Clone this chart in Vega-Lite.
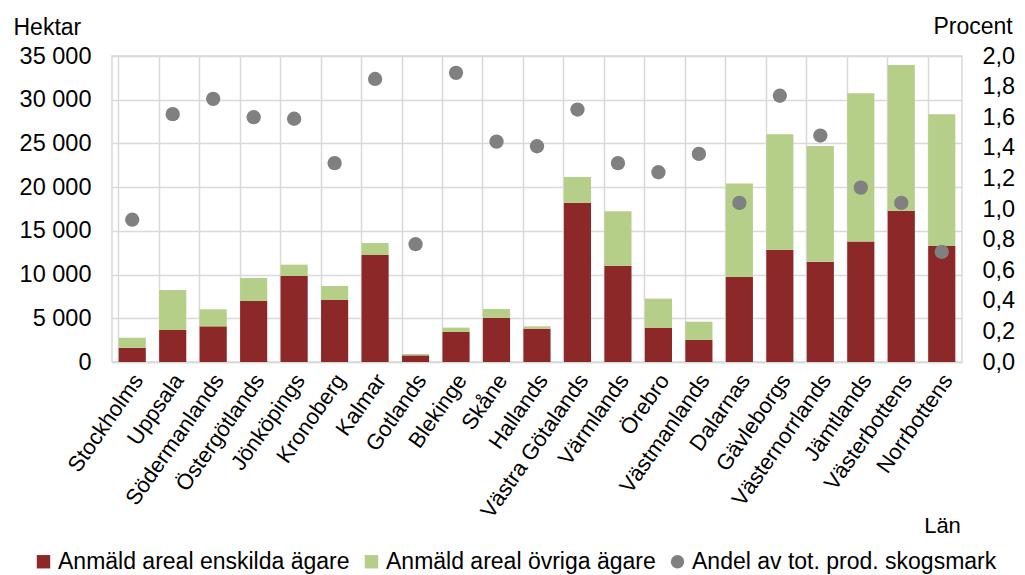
{
  "$schema": "https://vega.github.io/schema/vega-lite/v6.json",
  "width": 850,
  "height": 306,
  "autosize": {"type": "none"},
  "padding": {"left": 112, "top": 56, "right": 63, "bottom": 213},
  "background": "white",
  "config": {
    "font": "Liberation Sans",
    "view": {"stroke": "#d9d9d9", "strokeWidth": 1.5},
    "locale": {"number": {"decimal": ",", "thousands": " ", "grouping": [3], "currency": ["", " kr"]}},
    "axis": {"labelFont": "Liberation Sans", "titleFont": "Liberation Sans", "labelColor": "#000000", "titleColor": "#000000", "labelFontSize": 23.5, "titleFontSize": 23, "titleFontWeight": "normal", "ticks": false, "domain": false, "gridColor": "#d9d9d9", "gridWidth": 1.5},
    "legend": {"labelFont": "Liberation Sans", "labelFontSize": 23, "labelColor": "#000000", "labelLimit": 0}
  },
  "data": {
    "values": [
      {"lan": "Stockholms", "serie": "Anmäld areal enskilda ägare", "varde": 1630},
      {"lan": "Stockholms", "serie": "Anmäld areal övriga ägare", "varde": 1150},
      {"lan": "Stockholms", "serie": "Andel av tot. prod. skogsmark", "varde": 0.93},
      {"lan": "Uppsala", "serie": "Anmäld areal enskilda ägare", "varde": 3660},
      {"lan": "Uppsala", "serie": "Anmäld areal övriga ägare", "varde": 4580},
      {"lan": "Uppsala", "serie": "Andel av tot. prod. skogsmark", "varde": 1.62},
      {"lan": "Södermanlands", "serie": "Anmäld areal enskilda ägare", "varde": 4080},
      {"lan": "Södermanlands", "serie": "Anmäld areal övriga ägare", "varde": 1950},
      {"lan": "Södermanlands", "serie": "Andel av tot. prod. skogsmark", "varde": 1.72},
      {"lan": "Östergötlands", "serie": "Anmäld areal enskilda ägare", "varde": 6980},
      {"lan": "Östergötlands", "serie": "Anmäld areal övriga ägare", "varde": 2630},
      {"lan": "Östergötlands", "serie": "Andel av tot. prod. skogsmark", "varde": 1.60},
      {"lan": "Jönköpings", "serie": "Anmäld areal enskilda ägare", "varde": 9840},
      {"lan": "Jönköpings", "serie": "Anmäld areal övriga ägare", "varde": 1290},
      {"lan": "Jönköpings", "serie": "Andel av tot. prod. skogsmark", "varde": 1.59},
      {"lan": "Kronoberg", "serie": "Anmäld areal enskilda ägare", "varde": 7090},
      {"lan": "Kronoberg", "serie": "Anmäld areal övriga ägare", "varde": 1600},
      {"lan": "Kronoberg", "serie": "Andel av tot. prod. skogsmark", "varde": 1.30},
      {"lan": "Kalmar", "serie": "Anmäld areal enskilda ägare", "varde": 12240},
      {"lan": "Kalmar", "serie": "Anmäld areal övriga ägare", "varde": 1370},
      {"lan": "Kalmar", "serie": "Andel av tot. prod. skogsmark", "varde": 1.85},
      {"lan": "Gotlands", "serie": "Anmäld areal enskilda ägare", "varde": 760},
      {"lan": "Gotlands", "serie": "Anmäld areal övriga ägare", "varde": 150},
      {"lan": "Gotlands", "serie": "Andel av tot. prod. skogsmark", "varde": 0.77},
      {"lan": "Blekinge", "serie": "Anmäld areal enskilda ägare", "varde": 3430},
      {"lan": "Blekinge", "serie": "Anmäld areal övriga ägare", "varde": 500},
      {"lan": "Blekinge", "serie": "Andel av tot. prod. skogsmark", "varde": 1.89},
      {"lan": "Skåne", "serie": "Anmäld areal enskilda ägare", "varde": 5070},
      {"lan": "Skåne", "serie": "Anmäld areal övriga ägare", "varde": 990},
      {"lan": "Skåne", "serie": "Andel av tot. prod. skogsmark", "varde": 1.44},
      {"lan": "Hallands", "serie": "Anmäld areal enskilda ägare", "varde": 3810},
      {"lan": "Hallands", "serie": "Anmäld areal övriga ägare", "varde": 270},
      {"lan": "Hallands", "serie": "Andel av tot. prod. skogsmark", "varde": 1.41},
      {"lan": "Västra Götalands", "serie": "Anmäld areal enskilda ägare", "varde": 18190},
      {"lan": "Västra Götalands", "serie": "Anmäld areal övriga ägare", "varde": 2970},
      {"lan": "Västra Götalands", "serie": "Andel av tot. prod. skogsmark", "varde": 1.65},
      {"lan": "Värmlands", "serie": "Anmäld areal enskilda ägare", "varde": 11020},
      {"lan": "Värmlands", "serie": "Anmäld areal övriga ägare", "varde": 6210},
      {"lan": "Värmlands", "serie": "Andel av tot. prod. skogsmark", "varde": 1.30},
      {"lan": "Örebro", "serie": "Anmäld areal enskilda ägare", "varde": 3930},
      {"lan": "Örebro", "serie": "Anmäld areal övriga ägare", "varde": 3320},
      {"lan": "Örebro", "serie": "Andel av tot. prod. skogsmark", "varde": 1.24},
      {"lan": "Västmanlands", "serie": "Anmäld areal enskilda ägare", "varde": 2520},
      {"lan": "Västmanlands", "serie": "Anmäld areal övriga ägare", "varde": 2090},
      {"lan": "Västmanlands", "serie": "Andel av tot. prod. skogsmark", "varde": 1.36},
      {"lan": "Dalarnas", "serie": "Anmäld areal enskilda ägare", "varde": 9720},
      {"lan": "Dalarnas", "serie": "Anmäld areal övriga ägare", "varde": 10710},
      {"lan": "Dalarnas", "serie": "Andel av tot. prod. skogsmark", "varde": 1.04},
      {"lan": "Gävleborgs", "serie": "Anmäld areal enskilda ägare", "varde": 12850},
      {"lan": "Gävleborgs", "serie": "Anmäld areal övriga ägare", "varde": 13190},
      {"lan": "Gävleborgs", "serie": "Andel av tot. prod. skogsmark", "varde": 1.74},
      {"lan": "Västernorrlands", "serie": "Anmäld areal enskilda ägare", "varde": 11480},
      {"lan": "Västernorrlands", "serie": "Anmäld areal övriga ägare", "varde": 13230},
      {"lan": "Västernorrlands", "serie": "Andel av tot. prod. skogsmark", "varde": 1.48},
      {"lan": "Jämtlands", "serie": "Anmäld areal enskilda ägare", "varde": 13770},
      {"lan": "Jämtlands", "serie": "Anmäld areal övriga ägare", "varde": 16960},
      {"lan": "Jämtlands", "serie": "Andel av tot. prod. skogsmark", "varde": 1.14},
      {"lan": "Västerbottens", "serie": "Anmäld areal enskilda ägare", "varde": 17310},
      {"lan": "Västerbottens", "serie": "Anmäld areal övriga ägare", "varde": 16660},
      {"lan": "Västerbottens", "serie": "Andel av tot. prod. skogsmark", "varde": 1.04},
      {"lan": "Norrbottens", "serie": "Anmäld areal enskilda ägare", "varde": 13270},
      {"lan": "Norrbottens", "serie": "Anmäld areal övriga ägare", "varde": 15060},
      {"lan": "Norrbottens", "serie": "Andel av tot. prod. skogsmark", "varde": 0.72}
    ]
  },
  "encoding": {
    "x": {
      "field": "lan",
      "type": "nominal",
      "sort": null,
      "scale": {"paddingInner": 0.33, "paddingOuter": 0.165},
      "axis": {
        "title": "Län",
        "titleX": 830,
        "titleY": 170,
        "titleAlign": "center",
        "titleBaseline": "alphabetic",
        "titleFontSize": 22,
        "labelAngle": -55,
        "labelAlign": "right",
        "labelBaseline": "middle",
        "labelFontSize": 22,
        "labelPadding": 14,
        "labelOffset": 6,
        "grid": true,
        "bandPosition": 0,
        "domain": true,
        "domainColor": "#d9d9d9",
        "domainWidth": 1.5
      }
    }
  },
  "layer": [
    {
      "transform": [{"filter": "datum.serie !== 'Andel av tot. prod. skogsmark'"}],
      "mark": {"type": "bar"},
      "encoding": {
        "y": {
          "field": "varde",
          "type": "quantitative",
          "stack": "zero",
          "scale": {"domain": [0, 35000], "nice": false},
          "axis": {
            "title": "Hektar",
            "titleAngle": 0,
            "titleX": -99,
            "titleY": -22,
            "titleAlign": "left",
            "titleBaseline": "alphabetic",
            "values": [0, 5000, 10000, 15000, 20000, 25000, 30000, 35000],
            "format": ",d",
            "labelPadding": 21,
            "grid": true
          }
        },
        "order": {"field": "serie", "sort": "ascending"},
        "color": {
          "field": "serie",
          "type": "nominal",
          "scale": {
            "domain": ["Anmäld areal enskilda ägare", "Anmäld areal övriga ägare", "Andel av tot. prod. skogsmark"],
            "range": ["#8c2828", "#b5cf89", "#808080"]
          },
          "legend": {
            "orient": "none",
            "direction": "horizontal",
            "legendX": -80,
            "legendY": 494,
            "title": null,
            "symbolSize": 180,
            "columnPadding": 10,
            "labelOffset": 3
          }
        }
      }
    },
    {
      "transform": [{"filter": "datum.serie === 'Andel av tot. prod. skogsmark'"}],
      "mark": {"type": "point", "filled": true, "opacity": 1, "size": 205},
      "encoding": {
        "y": {
          "field": "varde",
          "type": "quantitative",
          "scale": {"domain": [0, 2], "nice": false},
          "axis": {
            "orient": "right",
            "title": "Procent",
            "titleAngle": 0,
            "titleX": -29,
            "titleY": -23,
            "titleAlign": "left",
            "titleBaseline": "alphabetic",
            "values": [0, 0.2, 0.4, 0.6, 0.8, 1.0, 1.2, 1.4, 1.6, 1.8, 2.0],
            "format": ".1f",
            "labelPadding": 20,
            "grid": false
          }
        },
        "color": {
          "field": "serie",
          "type": "nominal",
          "scale": {
            "domain": ["Anmäld areal enskilda ägare", "Anmäld areal övriga ägare", "Andel av tot. prod. skogsmark"],
            "range": ["#8c2828", "#b5cf89", "#808080"]
          },
          "legend": {
            "orient": "none",
            "direction": "horizontal",
            "legendX": -80,
            "legendY": 494,
            "title": null,
            "symbolSize": 180,
            "columnPadding": 10,
            "labelOffset": 3
          }
        },
        "shape": {
          "field": "serie",
          "type": "nominal",
          "scale": {
            "domain": ["Anmäld areal enskilda ägare", "Anmäld areal övriga ägare", "Andel av tot. prod. skogsmark"],
            "range": ["square", "square", "circle"]
          },
          "legend": {
            "orient": "none",
            "direction": "horizontal",
            "legendX": -80,
            "legendY": 494,
            "title": null,
            "symbolSize": 180,
            "columnPadding": 10,
            "labelOffset": 3
          }
        }
      }
    }
  ],
  "resolve": {"scale": {"y": "independent"}}
}
